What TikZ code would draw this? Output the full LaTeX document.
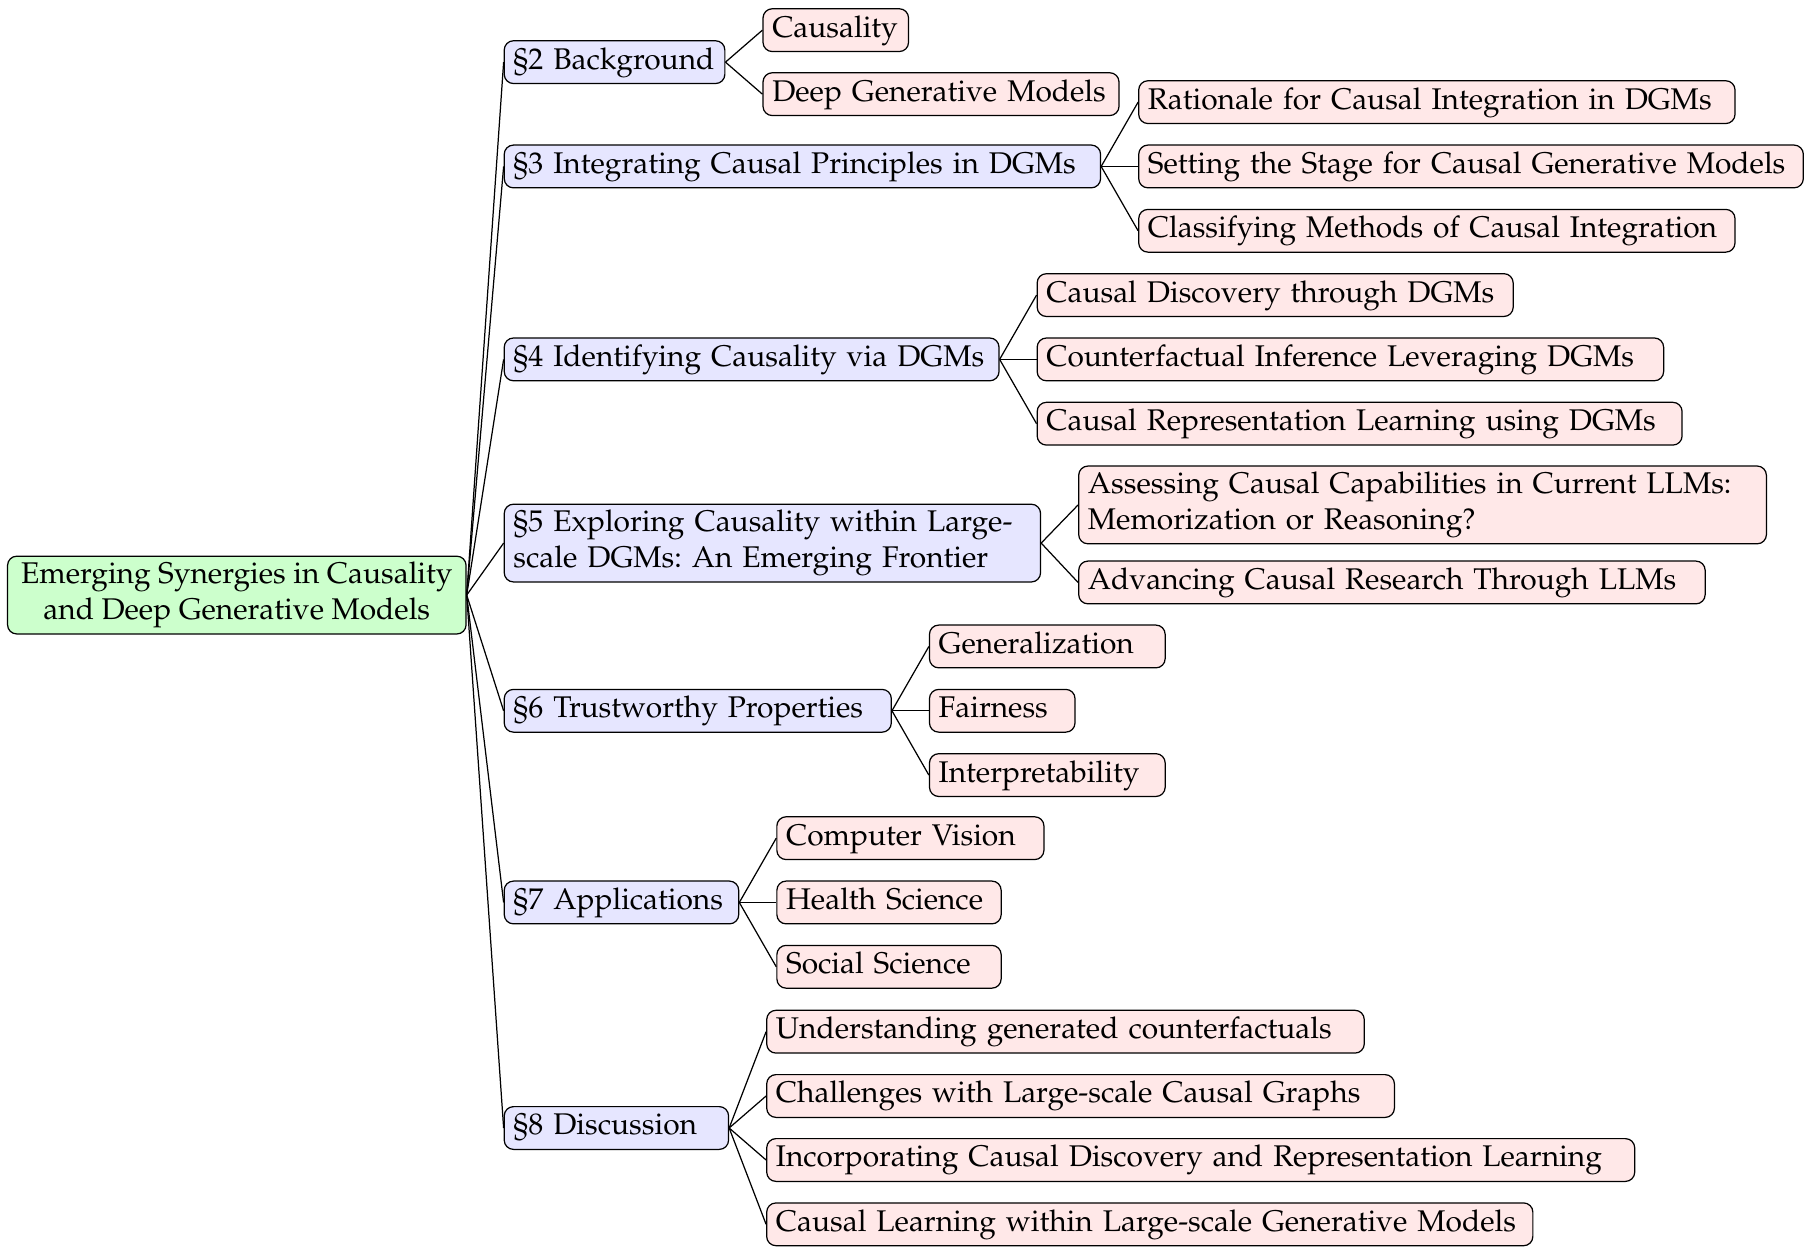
\documentclass[tikz,border=0pt]{standalone}
\usepackage[T1]{fontenc}
\usepackage{mathpazo}
\usepackage{xcolor}
\usepackage{tikz}
\usetikzlibrary{
  positioning
}
\frenchspacing
\definecolor{RootGreen}{HTML}{CCFFCC}
\definecolor{SectionBlue}{HTML}{E6E6FF}
\definecolor{TopicPink}{HTML}{FFE8E8}
\tikzset{
  box/.style={
    draw,
    rounded corners=3pt,
    inner xsep=3pt,
    align=left,
    font=\fontsize{9.72pt}{11.9pt}\selectfont
  },
  oneline/.style={
    text height=7.2pt,
    text depth=2.7pt,
    inner ysep=2pt
  },
  twoline/.style={
    inner ysep=1.8pt
  },
  overview/.style={
    box,
    twoline,
    inner xsep=4.4pt,
    fill=RootGreen,
    align=center
  },
  chapter/.style={
    box,
    fill=SectionBlue,
    text width=#1
  },
  topic/.style={
    box,
    fill=TopicPink,
    text width=#1
  },
  branch/.style={
    draw
  }
}

\begin{document}
\begin{tikzpicture}

  \useasboundingbox (0,0) rectangle (588.9pt,-409.4pt);

  % root
  \node[
    overview,
    anchor=west
  ] (root) at (2.25pt,-193.4pt) {
    Emerging Synergies in Causality\\
    and Deep Generative Models
  };

  % sections
  \node[chapter=65.7pt, oneline, right=12pt of root, yshift=173.2pt] (background) {\S2 Background};
  \node[chapter=187.8pt, oneline, right=12pt of root, yshift=139.3pt] (integrating) {\S3 Integrating Causal Principles in DGMs};
  \node[chapter=154.8pt, oneline, right=12pt of root, yshift=76.6pt] (identifying) {\S4 Identifying Causality via DGMs};
  \node[chapter=168.3pt, twoline, right=12pt of root, yshift=16.9pt] (exploring) {\S5 Exploring Causality within Large-\\scale DGMs: An Emerging Frontier};
  \node[chapter=119.8pt, oneline, right=12pt of root, yshift=-37.6pt] (trustworthy) {\S6 Trustworthy Properties};
  \node[chapter=70.2pt, oneline, right=12pt of root, yshift=-99.9pt] (applications) {\S7 Applications};
  \node[chapter=66.9pt, oneline, right=12pt of root, yshift=-173.2pt] (discussion) {\S8 Discussion};

  % topics of section 2
  \node[topic=41.3pt, oneline, right=12pt of background, yshift=10.4pt] (causality) {Causality};
  \node[topic=109.7pt, oneline, right=12pt of background, yshift=-10.4pt] (dgm) {Deep Generative Models};

  % topics of section 3
  \node[topic=187.8pt, oneline, right=12pt of integrating, yshift=20.9pt] (rationale) {Rationale for Causal Integration in DGMs};
  \node[topic=210.0pt, oneline, right=12pt of integrating] (setting) {Setting the Stage for Causal Generative Models};
  \node[topic=187.8pt, oneline, right=12pt of integrating, yshift=-20.9pt] (classifying) {Classifying Methods of Causal Integration};

  % topics of section 4
  \node[topic=148.7pt, oneline, right=12pt of identifying, yshift=20.9pt] (discovery) {Causal Discovery through DGMs};
  \node[topic=197.6pt, oneline, right=12pt of identifying] (counterfactual) {Counterfactual Inference Leveraging DGMs};
  \node[topic=203.6pt, oneline, right=12pt of identifying, yshift=-20.9pt] (representation) {Causal Representation Learning using DGMs};

  % topics of section 5
  \node[topic=217.5pt, twoline, right=12pt of exploring, yshift=12.4pt] (assessing) {Assessing Causal Capabilities in Current LLMs:\\Memorization or Reasoning?};
  \node[topic=197.6pt, oneline, right=12pt of exploring, yshift=-12.8pt] (advancing) {Advancing Causal Research Through LLMs};

  % topics of section 6
  \node[topic=70.6pt, oneline, right=12pt of trustworthy, yshift=20.9pt] (generalization) {Generalization};
  \node[topic=41.3pt, oneline, right=12pt of trustworthy] (fairness) {Fairness};
  \node[topic=70.6pt, oneline, right=12pt of trustworthy, yshift=-20.9pt] (interpretability) {Interpretability};

  % topics of section 7
  \node[topic=80.8pt, oneline, right=12pt of applications, yshift=20.9pt] (vision) {Computer Vision};
  \node[topic=66.9pt, oneline, right=12pt of applications] (health) {Health Science};
  \node[topic=66.9pt, oneline, right=12pt of applications, yshift=-20.9pt] (social) {Social Science};

  % topics of section 8
  \node[topic=188.2pt, oneline, right=12pt of discussion, yshift=31.3pt] (understanding) {Understanding generated counterfactuals};
  \node[topic=198.0pt, oneline, right=12pt of discussion, yshift=10.4pt] (challenges) {Challenges with Large-scale Causal Graphs};
  \node[topic=276.1pt, oneline, right=12pt of discussion, yshift=-10.4pt] (incorporating) {Incorporating Causal Discovery and Representation Learning};
  \node[topic=243.0pt, oneline, right=12pt of discussion, yshift=-31.3pt] (learning) {Causal Learning within Large-scale Generative Models};

  % branches
  \draw[branch] (root.east) -- (background.west);
  \draw[branch] (root.east) -- (integrating.west);
  \draw[branch] (root.east) -- (identifying.west);
  \draw[branch] (root.east) -- (exploring.west);
  \draw[branch] (root.east) -- (trustworthy.west);
  \draw[branch] (root.east) -- (applications.west);
  \draw[branch] (root.east) -- (discussion.west);

  \draw[branch] (background.east) -- (causality.west);
  \draw[branch] (background.east) -- (dgm.west);

  \draw[branch] (integrating.east) -- (rationale.west);
  \draw[branch] (integrating.east) -- (setting.west);
  \draw[branch] (integrating.east) -- (classifying.west);

  \draw[branch] (identifying.east) -- (discovery.west);
  \draw[branch] (identifying.east) -- (counterfactual.west);
  \draw[branch] (identifying.east) -- (representation.west);

  \draw[branch] (exploring.east) -- (assessing.west);
  \draw[branch] (exploring.east) -- (advancing.west);

  \draw[branch] (trustworthy.east) -- (generalization.west);
  \draw[branch] (trustworthy.east) -- (fairness.west);
  \draw[branch] (trustworthy.east) -- (interpretability.west);

  \draw[branch] (applications.east) -- (vision.west);
  \draw[branch] (applications.east) -- (health.west);
  \draw[branch] (applications.east) -- (social.west);

  \draw[branch] (discussion.east) -- (understanding.west);
  \draw[branch] (discussion.east) -- (challenges.west);
  \draw[branch] (discussion.east) -- (incorporating.west);
  \draw[branch] (discussion.east) -- (learning.west);

\end{tikzpicture}
\end{document}
